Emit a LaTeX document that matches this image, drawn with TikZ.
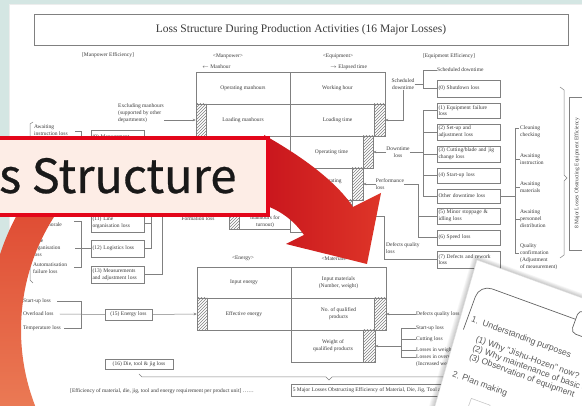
\documentclass[tikz,border=0pt]{standalone}
\usepackage{fontspec}
\setmainfont{Liberation Serif}
\newfontfamily\bannerfont[FakeBold=0.6]{Noto Sans CJK JP}
\newfontfamily\paperfont{Liberation Sans}
\usetikzlibrary{arrows.meta,patterns}
\definecolor{bgteal}{HTML}{D4E6E3}
\definecolor{docline}{HTML}{808080}
\definecolor{doctext}{HTML}{3A3A3A}
\definecolor{bannerred}{HTML}{E3061A}
\definecolor{bannerfill}{HTML}{FDEDE6}
\definecolor{arrowA}{HTML}{C9161D}
\definecolor{arrowB}{HTML}{DE3528}
\definecolor{orA}{HTML}{D8301F}
\definecolor{orB}{HTML}{EA6440}
\definecolor{orC}{HTML}{F4A070}
\definecolor{papertext}{HTML}{5A5A5A}
\newcommand\dtxt{\fontsize{5.5}{6.8}\selectfont}
\begin{document}
\begin{tikzpicture}[x=1pt,y=-1pt,
  lbl/.style={font=\dtxt, text=doctext, inner sep=0pt, align=left},
  cbox/.style={draw=docline, line width=0.5pt, font=\dtxt, text=doctext, align=center, inner sep=0pt},
  lbox/.style={draw=docline, line width=0.5pt, font=\dtxt, text=doctext, align=left, inner xsep=1.5pt, inner ysep=0pt},
  hat/.style={draw=docline, line width=0.4pt, pattern=north east lines, pattern color=docline},
  conn/.style={draw=docline, line width=0.5pt},
  arr/.style={conn, -{Stealth[length=3pt,width=2.6pt]}},
  ptxt/.style={font=\paperfont\fontsize{8.6}{10}\selectfont, text=papertext, anchor=base west, inner sep=0pt, rotate=-20},
]
\useasboundingbox (0,0) rectangle (582,406);
\clip (0,0) rectangle (582,406);
% page
\fill[bgteal] (0,0) rectangle (582,406);
\fill[black!7] (9,4) rectangle (582,406);
\fill[white] (10,5) rectangle (582,406);

% title
\node[draw=docline, line width=0.5pt, minimum width=534pt, minimum height=31pt, inner sep=0pt,
      font=\fontsize{11.5}{13}\selectfont, text=doctext] (title) at (301,29.5)
      {Loss Structure During Production Activities (16 Major Losses)};

% headers
\node[lbl] (mpe) at (108,55) {[Manpower Efficiency]};
\node[lbl] (mph) at (228,56) {<Manpower>};
\node[lbl, anchor=west] (mhr) at (202,67) {$\leftarrow$ Manhour};
\node[lbl] (eqh) at (338,56) {<Equipment>};
\node[lbl, anchor=west] (elt) at (330,67) {$\rightarrow$ Elapsed time};
\node[lbl] (eqe) at (449,56) {[Equipment Efficiency]};

% main table
\node[cbox, minimum width=94pt, minimum height=32pt] (opman) at (243,88) {Operating manhours};
\node[cbox, minimum width=95pt, minimum height=32pt] (work) at (337.5,88) {Working hour};
\node[cbox, minimum width=94pt, minimum height=32pt] (loadman) at (243,120) {Loading manhours};
\node[cbox, minimum width=95pt, minimum height=32pt] (loadtime) at (337.5,120) {Loading time};
\node[cbox, minimum width=83pt, minimum height=32pt] (optime) at (331.5,152) {Operating time};
\node[cbox, minimum width=73pt, minimum height=32pt] (netop) at (326.5,184) {Net operating\\time};
\node[cbox, minimum width=62pt, minimum height=32pt] (valop) at (321,216) {Valuable\\operating time};
\path[hat] (196,104) rectangle (206,136);
\path[hat] (374,104) rectangle (385,136);
\path[hat] (363,136) rectangle (373,168);
\path[hat] (352,168) rectangle (363,200);
\path[hat] (341,200) rectangle (352,232);

\node[cbox, minimum width=61pt, minimum height=24pt] (turn) at (259.5,217) {};
\path[hat] (229,205) rectangle (239,229);
\node[lbl, align=center] (turnt) at (265,221.5) {manhours for\\turnout)};
\node[lbl] (form) at (198,219) {Formation loss};

% excluding manhours
\node[lbl, anchor=west] (excl) at (118,113) {Excluding manhours\\(supported by other\\departments)};
\draw[arr] (excl.east |- loadman.west) -- (loadman.west);

% left causes
\draw[conn] (33,122) -- (30,124) -- (30,280) -- (33,283);
\node[lbl, anchor=west] (aw) at (34,130) {Awaiting\\instruction loss};
\node[lbl, anchor=west] (mor) at (33,225) {Work morale};
\node[lbl, anchor=west] (lorg) at (33,248) {Line\\organisation\\loss};
\node[lbl, anchor=west] (auto) at (33,268) {Automatisation\\failure loss};
\draw[conn] (75,131) -- (81,131) -- (81,140);
\draw[conn] (74,221) -- (81,221) -- (81,267) -- (74,267);

% left boxes
\node[lbox, text width=50pt, minimum height=20pt] (mg) at (117.5,140) {(9) Management\\loss};
\node[lbox, text width=50pt, minimum height=18pt] (lo) at (117.5,223) {(11) Line\\organisation loss};
\node[lbox, text width=50pt, minimum height=17pt] (lg) at (117.5,248.5) {(12) Logistics loss};
\node[lbox, text width=50pt, minimum height=17pt] (ms) at (117.5,274.5) {(13) Measurements\\and adjustment loss};
\draw[conn] (75,248.5) -- (lg.west);
\draw[conn] (lo.east) -- (151,223);
\draw[conn] (lg.east) -| (151,140);
\draw[conn] (ms.east) -| (162,140);

% energy / materials
\node[lbl] (enh) at (243,258) {<Energy>};
\node[lbl] (math) at (335,259) {<Materials>};
\node[cbox, minimum width=94pt, minimum height=31pt] (inE) at (244,282.5) {Input energy};
\node[cbox, minimum width=94pt, minimum height=32pt] (effE) at (244,314) {Effective energy};
\node[cbox, minimum width=95pt, minimum height=31pt] (inM) at (338.5,282.5) {Input materials\\(Number, weight)};
\node[cbox, minimum width=95pt, minimum height=32pt] (qualM) at (338.5,314) {No. of qualified\\products};
\node[cbox, minimum width=84pt, minimum height=32pt] (weightM) at (333,346) {Weight of\\qualified products};
\path[hat] (197,298) rectangle (207,330);
\path[hat] (374,298) rectangle (386,330);
\path[hat] (363,330) rectangle (375,362);

\node[lbl, anchor=west] (su) at (23,301) {Start-up loss};
\node[lbl, anchor=west] (ov) at (23,314) {Overload loss};
\node[lbl, anchor=west] (tp) at (23,328) {Temperature loss};
\coordinate (ev) at (81,0);
\draw[conn] ([xshift=6pt]su.east) -- (ev |- su.east) -- (ev |- tp.east) -- ([xshift=3pt]tp.east);
\node[lbox, minimum width=47pt, minimum height=11pt, inner xsep=1pt] (en) at (128.5,314.5) {(15) Energy loss};
\draw[conn] ([xshift=6pt]ov.east) -- (en.west);
\draw[arr] (en.east) -- (effE.west);

\node[lbox, minimum width=68pt, minimum height=10pt, inner xsep=1pt] (die) at (139,364) {(16) Die, tool \& jig loss};
\draw[conn] (139,374) -- (142,377) -- (326,377) -- (329,380) -- (332,377) -- (480,377);
\node[lbl, anchor=west] (effic) at (70,391) {[Efficiency of material, die, jig, tool and energy requirement per product unit] ……};
\node[lbox, anchor=west, minimum height=12pt] (five) at (291,390) {5 Major Losses Obstructing Efficiency of Material, Die, Jig, Tool and Energy};

% materials losses
\node[lbl, anchor=west] (dq2) at (416,314) {Defects quality loss};
\draw[arr] (dq2.west) -- (qualM.east);
\node[lbl, anchor=west] (ms1) at (416,328) {Start-up loss};
\node[lbl, anchor=west] (ms2) at (416,339) {Cutting loss};
\node[lbl, anchor=west] (ms3) at (416,350) {Losses in weight};
\node[lbl, anchor=west] (ms4) at (416,357.5) {Losses in overweight};
\node[lbl, anchor=west] (ms5) at (416,364) {(Increased weight)};
\coordinate (bv) at (401,0);
\draw[conn] (bv |- ms1.west) -- (bv |- ms4.west);
\foreach \n in {ms1,ms2,ms3,ms4} \draw[conn] (bv |- \n.west) -- (\n.west);
\draw[arr] (bv |- weightM.east) -- (weightM.east);

% equipment losses
\node[lbl, anchor=west] (schedh) at (437,70) {Scheduled downtime};
\node[lbl, align=center] (sched) at (403,84) {Scheduled\\downtime};
\node[lbox, text width=60pt, minimum height=17pt] (shut) at (468.5,88.5) {(0) Shutdown loss};
\draw[conn] (schedh.west) -- (423,70) |- (shut.west);
\coordinate (sb) at (423,84);
\draw[conn] (sched.east) -- (sb);
\draw[arr] (sched.south) |- (loadtime.east);

\node[lbox, text width=60pt, minimum height=15pt] (eq1) at (468.5,110.5) {(1) Equipment failure\\loss};
\node[lbox, text width=60pt, minimum height=16pt] (eq2) at (468.5,132) {(2) Set-up and\\adjustment loss};
\node[lbox, text width=60pt, minimum height=16pt] (eq3) at (468.5,154) {(3) Cutting/blade and jig\\change loss};
\node[lbox, text width=60pt, minimum height=15pt] (eq4) at (468.5,175.5) {(4) Start-up loss};
\node[lbox, text width=60pt, minimum height=14pt] (oth) at (468.5,196) {Other downtime loss};
\node[lbox, text width=60pt, minimum height=16pt] (eq5) at (468.5,216) {(5) Minor stoppage \&\\idling loss};
\node[lbox, text width=60pt, minimum height=15pt] (eq6) at (468.5,237.5) {(6) Speed loss};
\node[lbox, text width=60pt, minimum height=17pt] (eq7) at (468.5,259.5) {(7) Defects and rework\\loss};

\node[lbl, align=center] (down) at (398,152) {Downtime\\loss};
\draw[arr] (down.west) -- (optime.east);
\coordinate (dv) at (423,0);
\draw[conn] (down.east) -- (dv |- down.east);
\draw[conn] (dv |- eq1.west) -- (dv |- oth.west);
\foreach \n in {eq1,eq2,eq3,eq4,oth} \draw[conn] (dv |- \n.west) -- (\n.west);

\node[lbl, align=left] (perf) at (390,184) {Performance\\loss};
\draw[arr] (perf.west) -- (netop.east);
\coordinate (pv) at (418,0);
\draw[conn] (perf.east) -- (pv |- perf.east) -- (pv |- eq6.west) -- (eq6.west);
\draw[conn] (pv |- eq5.west) -- (eq5.west);

\node[lbl, anchor=west] (dql) at (386,248) {Defects quality\\loss};
\draw[arr] (eq7.west) -| (384,216) -- (valop.east);

% causes of other downtime
\coordinate (cv) at (515,0);
\node[lbl, anchor=west] (c1) at (520,131.5) {Cleaning\\checking};
\node[lbl, anchor=west] (c2) at (520,159.5) {Awaiting\\instruction};
\node[lbl, anchor=west] (c3) at (520,187.5) {Awaiting\\materials};
\node[lbl, anchor=west] (c4) at (520,219) {Awaiting\\personnel\\distribution};
\node[lbl, anchor=west] (c5) at (520,256.5) {Quality\\confirmation\\(Adjustment\\of measurement)};
\draw[conn] (oth.east) -- (cv |- oth.east);
\draw[conn] (cv |- 0,128) -- (cv |- 0,253);
\draw[conn] (cv |- 0,128) -- (519,128);
\foreach \n in {c2,c3,c4} \draw[conn] (cv |- \n.west) -- (\n.west);
\draw[conn] (cv |- 0,253) -- (519,253);

% right brace and box
\draw[conn] (560,87) -- (564,90) -- (564,175) -- (567,178) -- (564,181) -- (564,255) -- (560,258);
\node[cbox, minimum width=16pt, minimum height=153pt] (eight) at (577,173.5) {};
\node[lbl, rotate=90] (eightt) at (eight.center) {8 Major Losses Obstructing Equipment Efficiency};

% red arrow
\shade[left color=arrowA, right color=arrowB]
  (264,135) .. controls (294,152) and (334,178) .. (353,207)
  -- (381,193) -- (367,264) -- (286,244) -- (304,235)
  .. controls (295,222) and (282,211) .. (264,205) -- cycle;

% orange arc
\begin{scope}
\clip (-5,214) rectangle (150,410);
\shade[even odd rule, top color=orA, middle color=orB, bottom color=orC]
  (231,330) circle[radius=243pt] (231,330) circle[radius=210pt];
\end{scope}

% banner
\fill[bannerfill] (-10,138) rectangle (268,215);
\draw[bannerred, line width=4.5pt] (-10,138) rectangle (268,215);
\node[font=\bannerfont\fontsize{47}{50}\selectfont, text=black!90, anchor=base west, inner sep=0pt] (bantxt) at (-1,193) {s Structure};

% paper overlay
\foreach \s in {1,...,6} {
  \fill[black, opacity=0.035] (477-\s*0.6,260-\s) -- (640-\s*0.6,319-\s) -- (640,420) -- (431-\s,420) -- cycle;
}
\fill[white, draw=black!12, line width=0.4pt] (477,260) -- (640,319) -- (640,420) -- (431,420) -- cycle;
\begin{scope}[shift={(477,260)}, rotate=-20]
  \draw[black!60, line width=0.7pt, rounded corners=13pt] (11,70) -- (11,22) -- (113,22);
  \draw[black!60, line width=0.7pt, fill=white, rounded corners=5pt] (113,12) rectangle (170,36);
  \draw[black!25, line width=0.5pt] (42,132) rectangle (62,146);
  \node[ptxt] (p1) at (15,60) {1.\ \ Understanding purposes};
  \node[ptxt] (p2) at (26,77) {(1) Why "Jishu-Hozen" now?};
  \node[ptxt] (p3) at (26,86.5) {(2) Why maintenance of basic conditions?};
  \node[ptxt] (p4) at (26,96) {(3) Observation of equipment};
  \node[ptxt] (p5) at (16,118) {2. Plan making};
\end{scope}
\end{tikzpicture}
\end{document}
